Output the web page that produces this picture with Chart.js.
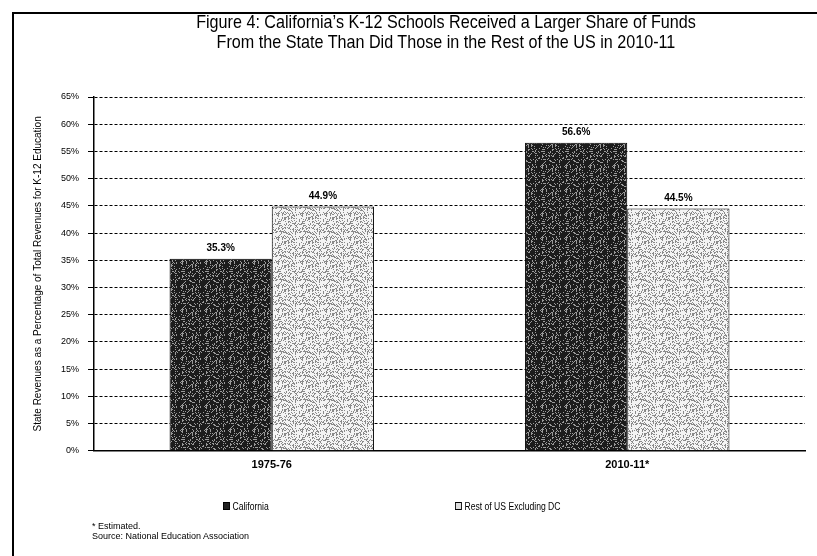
<!DOCTYPE html>
<html>
<head>
<meta charset="utf-8">
<script src="https://cdn.jsdelivr.net/npm/chart.js@4.4.1/dist/chart.umd.min.js"></script>
<style>
  html, body { margin: 0; padding: 0; background: #fff; }
  #wrap { position: relative; width: 817px; height: 556px; overflow: hidden; background: #fff; }
  #frame { position: absolute; left: 12px; top: 12px; width: 820px; height: 560px;
           border-top: 2px solid #000; border-left: 2px solid #000; }
  #title { position: absolute; left: 146px; width: 600px; top: 12px; text-align: center;
           font-family: "Liberation Sans", Arial, sans-serif;
           font-size: 19px; line-height: 20px; color: #000; white-space: nowrap;
           transform: scaleX(0.85); transform-origin: 50% 0; }
  #legend { position: absolute; top: 500px; left: 0; width: 817px; height: 14px;
            font-family: "Liberation Sans", Arial, sans-serif;
            font-size: 10px; color: #000; }
  .item { position: absolute; white-space: nowrap; line-height: 14px; transform: scaleX(0.86); transform-origin: 0 0; }
  .box { display: inline-block; width: 6px; height: 6px; border: 1px solid #000; margin-right: 3px; vertical-align: 0px; }
  #notes { position: absolute; left: 92px; top: 521px;
           font-family: "Liberation Sans", Arial, sans-serif;
           font-size: 9px; line-height: 10px; color: #000; }
  #chartBox { position: absolute; left: 0; top: 0; width: 817px; height: 556px; }
</style>
</head>
<body>
<div id="wrap">
  <div id="frame"></div>
  <div id="chartBox"><canvas id="c" width="817" height="556"></canvas></div>
  <div id="title">Figure 4: California’s K-12 Schools Received a Larger Share of Funds<br>From the State Than Did Those in the Rest of the US in 2010-11</div>
  <div id="legend"></div>
  <div id="notes">* Estimated.<br>Source: National Education Association</div>
</div>
<script>
// School years on the category axis
const years = ["1975-76", "2010-11*"];
// State share of K-12 revenues, percent
const california = [35.3, 56.6];
const restOfUS = [44.9, 44.5];
// Series names
const seriesNames = ["California", "Rest of US Excluding DC"];
// Percent axis
const yMin = 0, yMax = 65, yStep = 5;

const sans = '"Liberation Sans", Arial, sans-serif';

// Speckled print-style fills (deterministic hash, so the texture is fixed)
function speckle(base, dot, density) {
  const size = 24;
  const cv = document.createElement("canvas");
  cv.width = size; cv.height = size;
  const g = cv.getContext("2d");
  g.fillStyle = base;
  g.fillRect(0, 0, size, size);
  g.fillStyle = dot;
  for (let y = 0; y < size; y++) {
    for (let x = 0; x < size; x++) {
      const h = ((x * 73856093) ^ (y * 19349663) ^ ((x + y) * 83492791)) >>> 0;
      if (h % 100 < density) g.fillRect(x, y, 1, 1);
    }
  }
  return g.createPattern(cv, "repeat");
}
const darkFill = speckle("#1c1c1c", "#9a9a9a", 18);
const lightFill = speckle("#f4f4f4", "#8a8a8a", 30);
const legendFill = ["#222", "#ddd"];

// Value labels above each bar, read from the same data
const valueLabels = {
  id: "valueLabels",
  afterDatasetsDraw(chart) {
    const ctx = chart.ctx;
    ctx.save();
    ctx.font = "bold 10px " + sans;
    ctx.fillStyle = "#000";
    ctx.textAlign = "center";
    ctx.textBaseline = "bottom";
    chart.data.datasets.forEach((ds, i) => {
      chart.getDatasetMeta(i).data.forEach((bar, j) => {
        ctx.fillText(ds.data[j].toFixed(1) + "%", bar.x, bar.y - 5);
      });
    });
    ctx.restore();
  }
};

const chart = new Chart(document.getElementById("c"), {
  type: "bar",
  data: {
    labels: years,
    datasets: [
      { label: seriesNames[0], data: california, backgroundColor: darkFill, borderColor: "#000", borderWidth: 1 },
      { label: seriesNames[1], data: restOfUS, backgroundColor: lightFill, borderColor: "#000", borderWidth: 1 }
    ]
  },
  options: {
    responsive: false,
    animation: false,
    events: [],
    layout: { padding: { top: 97, left: 32, right: 12, bottom: 84 } },
    datasets: { bar: { categoryPercentage: 0.575, barPercentage: 1.0 } },
    plugins: {
      legend: { display: false },
      title: { display: false },
      tooltip: { enabled: false }
    },
    scales: {
      x: {
        grid: { display: false },
        border: { display: true, color: "#000", width: 1.5 },
        ticks: { color: "#000", font: { family: sans, size: 11, weight: "bold" }, padding: 0 }
      },
      y: {
        min: yMin, max: yMax,
        ticks: { stepSize: yStep, color: "#000", font: { family: sans, size: 9 }, padding: 9,
                 callback: v => v + "%" },
        grid: { color: "#000", lineWidth: 1, tickBorderDash: [], tickLength: 6,
                tickColor: "#000", drawTicks: true },
        border: { display: true, color: "#000", width: 1.5, dash: [3, 2] },
        title: { display: true, text: "State Revenues as a Percentage of Total Revenues for K-12 Education",
                 color: "#000", font: { family: sans, size: 10 }, padding: { top: 0, bottom: 8 } }
      }
    }
  },
  plugins: [valueLabels]
});

// Legend built from the dataset names
const legendPos = [223, 455];
const legend = document.getElementById("legend");
chart.data.datasets.forEach((ds, i) => {
  const item = document.createElement("div");
  item.className = "item";
  item.style.left = legendPos[i] + "px";
  const box = document.createElement("span");
  box.className = "box";
  box.style.background = legendFill[i];
  item.appendChild(box);
  item.appendChild(document.createTextNode(ds.label));
  legend.appendChild(item);
});
</script>
</body>
</html>
